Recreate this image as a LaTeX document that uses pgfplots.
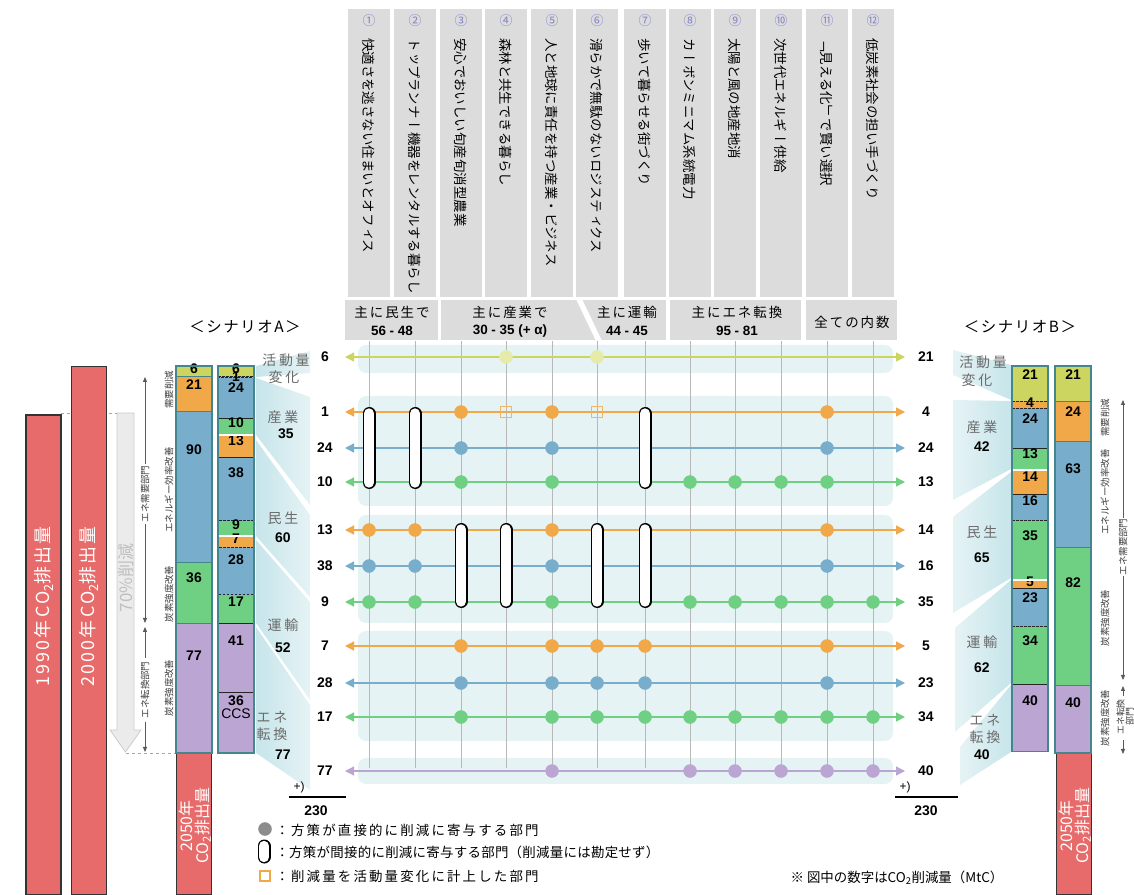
\documentclass[border=0pt]{standalone}
\usepackage{pgfplots}
\pgfplotsset{compat=1.18}
\usepackage{fontspec}
\usetikzlibrary{arrows.meta}
\setmainfont{Liberation Sans}
\newfontfamily\jp{Noto Sans CJK JP}
\newfontfamily\vjp[Vertical=RotatedGlyphs]{Noto Sans CJK JP}

\definecolor{cyg}{HTML}{CCD55F}
\definecolor{cpale}{HTML}{E6EBAA}
\definecolor{cor}{HTML}{F0A848}
\definecolor{cbl}{HTML}{78AECB}
\definecolor{cgr}{HTML}{6FCF83}
\definecolor{cpu}{HTML}{BBA5D3}
\definecolor{cred}{HTML}{E86B6B}
\definecolor{cpanel}{HTML}{E5F3F5}
\definecolor{chead}{HTML}{DCDCDC}
\definecolor{cteal}{HTML}{43868E}
\definecolor{cnum}{HTML}{8282C8}
\definecolor{cwd}{HTML}{C6E5EA}
\definecolor{cwl}{HTML}{E6F3F5}
\definecolor{clab}{HTML}{6B6B6B}
\definecolor{cvl}{HTML}{B8B8B8}

\newcommand\numfont{\fontsize{14}{16}\selectfont\bfseries}
\newcommand\jpf[1]{\jp\fontsize{#1}{#1}\selectfont}

\pgfplotsset{
  frame/.style={scale only axis, width=1134bp, height=895bp, hide axis,
    xmin=0, xmax=1134, at={(0,0)}, anchor=south west},
  px/.style={frame, ymin=0, ymax=895, y dir=reverse, clip=false},
  stk/.style={frame, ybar stacked, bar width=36bp, y dir=reverse,
    ymin=-217.52, ymax=314.40, clip=false,
    nodes near coords style={font=\numfont, text=black, inner sep=0pt}},
  dseg/.style={draw=black!85, dash pattern=on 2.5bp off 1.5bp, line width=0.7bp},
  sseg/.style={draw=cteal, line width=0.9bp},
  dot/.style={only marks, mark=*, mark size=6.5bp},
  row/.style={line width=1.3bp,
    arrows={Triangle[length=9bp,width=9bp]-Triangle[length=9bp,width=9bp]}},
}
% one segment of a stacked bar: [style]{x}{colour}{value}
% (the shift below is applied twice by pgfplots, hence the quarter)
\newcommand\seg[4][]{\addplot[fill=#3, #1, nodes near coords={#4},
  every node near coord/.append style={anchor=center,
    shift={(axis direction cs:0,-#4/4)}}] coordinates {(#2,#4)};}
% indirect-contribution pill: {x}{y1}{y2}
\newcommand\pill[3]{%
  \addplot[black, line width=13bp, line cap=round] coordinates {(#1,#2) (#1,#3)};
  \addplot[white, line width=10.4bp, line cap=round] coordinates {(#1,#2) (#1,#3)};}

\begin{document}
\begin{tikzpicture}
\useasboundingbox (0,0) rectangle (1134bp,895bp);

% ---------- background decoration
\begin{scope}[x=1bp,y=-1bp,yshift=895bp]
  \foreach \x in {369,415,461,506,552,597,645,690,735,781,827,873}
    \fill[chead] (\x-21,9) rectangle (\x+21,297);
  \fill[chead] (345,300) rectangle (438,340);
  \fill[chead] (441,300) rectangle (666,340);
  \fill[white] (576,299) -- (582,299) -- (602,341) -- (596,341) -- cycle;
  \fill[chead] (670,300) rectangle (801,340);
  \fill[chead] (806,300) rectangle (897,340);
  \foreach \a/\b in {345/373,396/506,515/623,631/741,758/784}
    \fill[cpanel, rounded corners=8bp] (358,\a) rectangle (893,\b);
  \foreach \x in {369,415,461,506,552,597,645,690,735,781,827,873}
    \draw[cvl, line width=0.9bp] (\x,341) -- (\x,768);
  % wedges, scenario A
  \shade[left color=cwd, right color=cwl] (256,366)--(310,351)--(310,373)--(256,377)--cycle;
  \shade[left color=cwd, right color=cwl] (256,378)--(310,397)--(310,505)--(256,435)--cycle;
  \shade[left color=cwd, right color=cwl] (256,440)--(310,515)--(310,597)--(256,536)--cycle;
  \shade[left color=cwd, right color=cwl] (256,540)--(310,602)--(310,700)--(256,623)--cycle;
  \shade[left color=cwd, right color=cwl] (256,627)--(310,705)--(310,790)--(256,753)--cycle;
  % wedges, scenario B
  \shade[left color=cwl, right color=cwd] (953,350)--(1011,365)--(1011,400)--(953,375)--cycle;
  \shade[left color=cwl, right color=cwd] (953,400)--(1011,401)--(1011,469)--(953,500)--cycle;
  \shade[left color=cwl, right color=cwd] (953,517)--(1011,472)--(1011,578)--(953,613)--cycle;
  \shade[left color=cwl, right color=cwd] (955,628)--(1011,580)--(1011,683)--(955,732)--cycle;
  \shade[left color=cwl, right color=cwd] (960,747)--(1011,685)--(1011,752)--(960,785)--cycle;
  % 70% arrow
  \filldraw[fill=black!8, draw=black!20, line width=0.8bp]
    (117,413) -- (134,413) -- (134,730) -- (141,730) -- (125.5,752) -- (110,730) -- (117,730) -- cycle;
  \draw[black!35, dashed, line width=0.9bp] (61,413) -- (117,413);
  \draw[black!35, dashed, line width=0.9bp] (126,753) -- (176,753);
\end{scope}

% ---------- matrix of measures
\begin{axis}[px]
  \addplot[cyg, row] coordinates {(345,357) (905,357)};
  \addplot[cor, row] coordinates {(345,412) (905,412)};
  \addplot[cbl, row] coordinates {(345,448) (905,448)};
  \addplot[cgr, row] coordinates {(345,482) (905,482)};
  \addplot[cor, row] coordinates {(345,530) (905,530)};
  \addplot[cbl, row] coordinates {(345,566) (905,566)};
  \addplot[cgr, row] coordinates {(345,602) (905,602)};
  \addplot[cor, row] coordinates {(345,646) (905,646)};
  \addplot[cbl, row] coordinates {(345,683) (905,683)};
  \addplot[cgr, row] coordinates {(345,717) (905,717)};
  \addplot[cpu, row] coordinates {(345,771) (905,771)};
  % direct contributions
  \addplot[cpale, dot] coordinates {(506,357) (597,357)};
  \addplot[cor, dot] coordinates {(461,412) (552,412) (827,412)
    (369,530) (415,530) (552,530) (827,530)
    (461,646) (552,646) (597,646) (645,646) (827,646)};
  \addplot[cbl, dot] coordinates {(461,448) (552,448) (827,448)
    (369,566) (415,566) (552,566) (827,566)
    (461,683) (552,683) (597,683) (645,683) (827,683)};
  \addplot[cgr, dot] coordinates {(461,482) (552,482) (690,482) (735,482) (781,482) (827,482)
    (369,602) (415,602) (552,602) (690,602) (735,602) (781,602) (827,602) (873,602)
    (461,717) (552,717) (597,717) (645,717) (690,717) (735,717) (781,717) (827,717) (873,717)};
  \addplot[cpu, dot] coordinates {(552,771) (690,771) (735,771) (781,771) (827,771) (873,771)};
  % indirect contributions
  \pill{369}{413.5}{482.5}
  \pill{415}{413.5}{482.5}
  \pill{645}{413.5}{482.5}
  \pill{461}{529.5}{601.5}
  \pill{506}{529.5}{601.5}
  \pill{597}{529.5}{601.5}
  \pill{645}{529.5}{601.5}
  % counted in activity change
  \addplot[only marks, mark=square, mark size=5.5bp, cor!85, line width=1.1bp]
    coordinates {(506,412) (597,412)};
  % legend marks
  \addplot[black!45, dot] coordinates {(265,829)};
  \pill{264}{846}{857}
  \addplot[only marks, mark=square, mark size=5bp, cor, line width=1.1bp]
    coordinates {(265,876)};
\end{axis}

% ---------- emissions 1990, 2000, 2050 (MtC)
\begin{axis}[frame, ymin=1.783, ymax=533.7, ybar, bar width=35bp]
  \addplot[fill=cred, draw=black!80, line width=1.3bp]
    coordinates {(43.5,287) (89,316) (194,86) (1074,86)};
\end{axis}

% ---------- scenario A, by measure type
\begin{axis}[stk]
  \seg[sseg]{194}{cyg}{6}
  \seg[sseg]{194}{cor}{21}
  \seg[sseg]{194}{cbl}{90}
  \seg[sseg]{194}{cgr}{36}
  \seg[sseg]{194}{cpu}{77}
\end{axis}
% ---------- scenario A, by sector
\begin{axis}[stk]
  \seg[dseg]{236}{cyg}{6}
  \seg[dseg]{236}{cor}{1}
  \seg[dseg]{236}{cbl}{24}
  \seg[dseg]{236}{cgr}{10}
  \seg[dseg]{236}{cor}{13}
  \seg[dseg]{236}{cbl}{38}
  \seg[dseg]{236}{cgr}{9}
  \seg[dseg]{236}{cor}{7}
  \seg[dseg]{236}{cbl}{28}
  \seg[dseg]{236}{cgr}{17}
  \seg[dseg]{236}{cpu}{41}
  \addplot[fill=cpu, dseg, nodes near coords={\shortstack{36\\\mdseries CCS}},
    every node near coord/.append style={anchor=center,
      shift={(axis direction cs:0,-9)}}] coordinates {(236,36)};
\end{axis}
% ---------- scenario B, by sector
\begin{axis}[stk]
  \seg[dseg]{1030}{cyg}{21}
  \seg[dseg]{1030}{cor}{4}
  \seg[dseg]{1030}{cbl}{24}
  \seg[dseg]{1030}{cgr}{13}
  \seg[dseg]{1030}{cor}{14}
  \seg[dseg]{1030}{cbl}{16}
  \seg[dseg]{1030}{cgr}{35}
  \seg[dseg]{1030}{cor}{5}
  \seg[dseg]{1030}{cbl}{23}
  \seg[dseg]{1030}{cgr}{34}
  \seg[dseg]{1030}{cpu}{40}
\end{axis}
% ---------- scenario B, by measure type
\begin{axis}[stk]
  \seg[sseg]{1073}{cyg}{21}
  \seg[sseg]{1073}{cor}{24}
  \seg[sseg]{1073}{cbl}{63}
  \seg[sseg]{1073}{cgr}{82}
  \seg[sseg]{1073}{cpu}{40}
\end{axis}

% ---------- frames and text
\begin{scope}[x=1bp,y=-1bp,yshift=895bp]
  \draw[white, line width=2bp] (219,435) -- (253,435) (219,536) -- (253,536);
  \draw[white, line width=2bp] (1013,470) -- (1047,470) (1013,579.7) -- (1047,579.7);
  \draw[cteal, line width=1.3bp] (176,366) rectangle (212,753);
  \draw[cteal, line width=1.3bp] (218,366) rectangle (254,753);
  \draw[cteal, line width=1.3bp] (1012,366) rectangle (1048,751.3);
  \draw[cteal, line width=1.3bp] (1055,366) rectangle (1091,753);

  \foreach \x/\n/\t in {369/①/快適さを逃さない住まいとオフィス,
      415/②/トップランナー機器をレンタルする暮らし,
      461/③/安心でおいしい旬産旬消型農業,
      506/④/森林と共生できる暮らし,
      552/⑤/人と地球に責任を持つ産業・ビジネス,
      597/⑥/滑らかで無駄のないロジスティクス,
      645/⑦/歩いて暮らせる街づくり,
      690/⑧/カーボンミニマム系統電力,
      735/⑨/太陽と風の地産地消,
      781/⑩/次世代エネルギー供給,
      827/⑪/「見える化」で賢い選択,
      873/⑫/低炭素社会の担い手づくり}{
    \node[text=cnum, font=\jpf{13}] at (\x,21) {\n};
    \node[rotate=-90, anchor=west, inner sep=0pt,
      font=\vjp\fontsize{13.5}{14}\selectfont] at (\x,38) {\t};
  }

  \begin{scope}[every node/.style={font=\jpf{13.5}\addfontfeature{LetterSpace=15}}]
    \node at (392,312) {主に民生で};
    \node at (510,312) {主に産業で};
    \node at (627,312) {主に運輸};
    \node at (737,312) {主にエネ転換};
    \node at (852,322) {全ての内数};
  \end{scope}
  \begin{scope}[every node/.style={font=\fontsize{13.5}{15}\selectfont\bfseries}]
    \node at (392,331) {56 - 48};
    \node at (510,331) {30 - 35 (+ α)};
    \node at (627,331) {44 - 45};
    \node at (737,331) {95 - 81};
  \end{scope}

  \foreach \y/\l/\r in {357/6/21, 412/1/4, 448/24/24, 482/10/13, 530/13/14,
      566/38/16, 602/9/35, 646/7/5, 683/28/23, 717/17/34, 771/77/40}{
    \node[font=\numfont] at (325,\y) {\l};
    \node[font=\numfont] at (926,\y) {\r};
  }

  \node[font=\jpf{15.5}\addfontfeature{LetterSpace=10}] at (245,327) {＜シナリオA＞};
  \node[font=\jpf{15.5}\addfontfeature{LetterSpace=10}] at (1020,327) {＜シナリオB＞};

  \begin{scope}[every node/.style={text=clab, font=\jpf{14}\addfontfeature{LetterSpace=20}}]
    \node at (286,360) {活動量};
    \node at (284,377) {変化};
    \node at (283,417) {産業};
    \node at (283,518) {民生};
    \node at (283,625) {運輸};
    \node at (272,717) {エネ};
    \node at (272,734) {転換};
    \node at (983,362) {活動量};
    \node at (977,380) {変化};
    \node at (982,427) {産業};
    \node at (982,532) {民生};
    \node at (982,642) {運輸};
    \node at (985,720) {エネ};
    \node at (985,737) {転換};
  \end{scope}
  \begin{scope}[every node/.style={font=\numfont}]
    \node at (286,434) {35};
    \node at (283,538) {60};
    \node at (283,648) {52};
    \node at (283,755) {77};
    \node at (982,447) {42};
    \node at (982,558) {65};
    \node at (982,668) {62};
    \node at (982,755) {40};
    \node at (316,811) {230};
    \node at (926,811) {230};
  \end{scope}
  \draw[black, line width=2bp] (289,797) -- (346,797);
  \draw[black, line width=2bp] (895,797) -- (958,797);
  \node[font=\fontsize{12}{12}\selectfont] at (299,787) {+)};
  \node[font=\fontsize{12}{12}\selectfont] at (905,787) {+)};

  % red bar labels
  \node[rotate=90, anchor=west, text=white, font=\jpf{18}\addfontfeature{LetterSpace=12}]
    at (44,690) {1990年CO\textsubscript{2}排出量};
  \node[rotate=90, anchor=west, text=white, font=\jpf{18}\addfontfeature{LetterSpace=12}]
    at (89,690) {2000年CO\textsubscript{2}排出量};
  \node[rotate=90, text=white, align=center, font=\jpf{16}, inner sep=0pt]
    at (195,826) {2050年\\CO\textsubscript{2}排出量};
  \node[rotate=90, text=white, align=center, font=\jpf{16}, inner sep=0pt]
    at (1075,826) {2050年\\CO\textsubscript{2}排出量};
  \node[rotate=90, text=black!25, font=\jpf{17}] at (126,578) {70\%削減};

  % side annotations
  \begin{scope}[every node/.style={rotate=90, text=black!75, font=\jpf{9.5}}]
    \node at (169,390) {需要削減};
    \node at (169,490) {エネルギー効率改善};
    \node at (169,594) {炭素強度改善};
    \node at (169,688) {炭素強度改善};
    \node at (145,494) {エネ需要部門};
    \node at (145,690) {エネ転換部門};
    \node at (1105,418) {需要削減};
    \node at (1105,492) {エネルギー効率改善};
    \node at (1105,618) {炭素強度改善};
    \node at (1105,718) {炭素強度改善};
    \node at (1123,547) {エネ需要部門};
    \node[align=center, inner sep=0pt, font=\jpf{9}\linespread{0.9}\selectfont]
      at (1125,717) {エネ転換\\部門};
  \end{scope}
  \begin{scope}[black!65, line width=0.8bp, -{Triangle[length=5bp,width=4bp]}]
    \draw (145,464) -- (145,377);
    \draw (145,524) -- (145,623);
    \draw (145,658) -- (145,627);
    \draw (145,722) -- (145,752);
    \draw (1123,518) -- (1123,400);
    \draw (1123,576) -- (1123,680);
    \draw (1123,696) -- (1123,686);
    \draw (1123,740) -- (1123,754);
  \end{scope}

  % legend
  \node[anchor=west, font=\jpf{13.5}\addfontfeature{LetterSpace=16}] at (272,830)
    {：方策が直接的に削減に寄与する部門};
  \node[anchor=west, font=\jpf{13.5}\addfontfeature{LetterSpace=2}] at (272,852)
    {：方策が間接的に削減に寄与する部門（削減量には勘定せず）};
  \node[anchor=west, font=\jpf{13.5}\addfontfeature{LetterSpace=16}] at (272,876)
    {：削減量を活動量変化に計上した部門};
  \node[font=\jpf{13.5}] at (897,878) {※ 図中の数字はCO\textsubscript{2}削減量（MtC）};
\end{scope}
\end{tikzpicture}
\end{document}
